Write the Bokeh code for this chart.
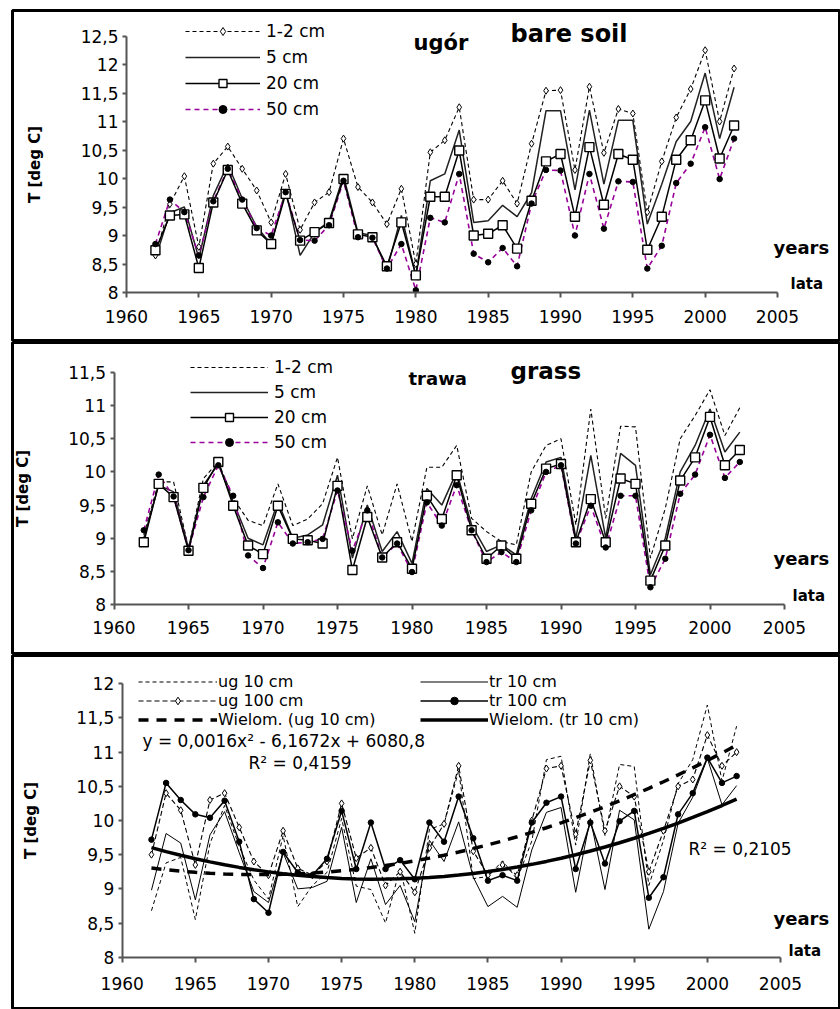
import numpy as np
from bokeh.plotting import figure
from bokeh.models import (LinearAxis, FixedTicker, Range1d, Legend, LegendItem,
                          Label, CustomJSTickFormatter)
from bokeh.layouts import column
from bokeh.embed import file_html
from bokeh.resources import INLINE

# ---------------- data ----------------
years = list(range(1962, 2003))
x_ticks = [1960, 1965, 1970, 1975, 1980, 1985, 1990, 1995, 2000, 2005]
y_ticks_top = [8, 8.5, 9, 9.5, 10, 10.5, 11, 11.5, 12, 12.5]
y_ticks_mid = [8, 8.5, 9, 9.5, 10, 10.5, 11, 11.5]
y_ticks_bot = [8, 8.5, 9, 9.5, 10, 10.5, 11, 11.5, 12]

# bare soil (ugór)
bs_1_2 = [8.65, 9.55, 10.04, 8.80, 10.26, 10.56, 10.17, 9.79, 9.23, 10.08,
          9.10, 9.58, 9.76, 10.70, 9.85, 9.58, 9.20, 9.82, 8.50, 10.46,
          10.67, 11.25, 9.63, 9.63, 9.96, 9.56, 10.61, 11.54, 11.55, 10.15,
          11.61, 10.45, 11.22, 11.14, 9.41, 10.30, 11.07, 11.57, 12.25, 11.00, 11.93]
bs_5 = [8.60, 9.40, 9.50, 8.60, 9.70, 10.25, 9.65, 9.15, 8.85, 9.80,
        8.65, 9.05, 9.25, 10.05, 9.05, 9.00, 8.40, 9.35, 8.30, 9.96,
        10.08, 10.85, 9.23, 9.26, 9.53, 9.33, 9.75, 11.19, 11.19, 9.80,
        11.20, 9.90, 11.02, 11.02, 9.20, 9.90, 10.65, 11.00, 11.85, 10.70, 11.60]
bs_20 = [8.74, 9.35, 9.37, 8.43, 9.58, 10.15, 9.56, 9.09, 8.85, 9.73,
         8.91, 9.06, 9.22, 9.99, 9.02, 8.97, 8.46, 9.23, 8.30, 9.68,
         9.68, 10.49, 9.00, 9.03, 9.18, 8.77, 9.61, 10.30, 10.43, 9.33,
         10.55, 9.54, 10.43, 10.33, 8.75, 9.33, 10.33, 10.67, 11.37, 10.35, 10.93]
bs_50 = [8.85, 9.63, 9.41, 8.65, 9.60, 10.17, 9.63, 9.13, 9.00, 9.76,
         8.92, 8.91, 9.18, 9.96, 8.97, 8.96, 8.42, 8.85, 8.04, 9.31,
         9.23, 10.08, 8.68, 8.53, 8.78, 8.46, 9.56, 10.15, 10.14, 9.00,
         10.08, 9.12, 9.95, 9.94, 8.42, 8.82, 9.92, 10.26, 10.90, 9.99, 10.70]

# grass (trawa)
gr_1_2 = [9.05, 9.85, 9.85, 8.85, 9.90, 10.15, 9.60, 9.27, 9.19, 9.82,
          9.19, 9.29, 9.52, 10.22, 8.99, 9.79, 9.05, 9.82, 8.95, 10.07,
          10.07, 10.40, 9.30, 9.10, 8.95, 8.90, 10.00, 10.40, 10.50, 9.20,
          10.95, 9.30, 10.69, 10.68, 8.70, 9.45, 10.50, 10.85, 11.24, 10.55, 10.97]
gr_5 = [9.00, 9.80, 9.70, 8.85, 9.80, 10.12, 9.55, 9.00, 8.90, 9.55,
        9.00, 9.05, 9.20, 9.95, 8.70, 9.50, 8.80, 9.10, 8.62, 9.75,
        9.50, 10.00, 9.20, 8.80, 8.90, 8.75, 9.60, 10.15, 10.22, 9.00,
        10.25, 9.00, 10.28, 10.10, 8.45, 9.00, 10.00, 10.40, 10.95, 10.30, 10.60]
gr_20 = [8.94, 9.82, 9.62, 8.81, 9.76, 10.15, 9.49, 8.89, 8.76, 9.49,
         8.99, 8.97, 8.92, 9.79, 8.52, 9.32, 8.71, 8.94, 8.54, 9.64,
         9.29, 9.95, 9.12, 8.69, 8.89, 8.69, 9.52, 10.05, 10.12, 8.94,
         9.59, 8.94, 9.90, 9.82, 8.36, 8.89, 9.87, 10.22, 10.83, 10.10, 10.33]
gr_50 = [9.12, 9.96, 9.63, 8.82, 9.62, 10.10, 9.64, 8.74, 8.55, 9.24,
         8.92, 8.94, 8.99, 9.72, 8.81, 9.42, 8.71, 8.92, 8.49, 9.54,
         9.19, 9.80, 9.12, 8.64, 8.79, 8.64, 9.42, 10.00, 10.10, 8.92,
         9.49, 8.86, 9.64, 9.64, 8.26, 8.69, 9.67, 9.96, 10.56, 9.91, 10.15]

# 10 cm / 100 cm comparison
ug_10 = [8.68, 9.38, 9.46, 8.55, 9.66, 10.22, 9.62, 9.13, 8.85, 9.78,
         8.74, 9.05, 9.24, 10.03, 9.04, 8.99, 8.50, 9.31, 8.35, 9.87,
         9.95, 10.73, 9.15, 9.18, 9.41, 9.14, 9.70, 10.89, 10.94, 9.64,
         10.98, 9.78, 10.82, 10.79, 9.05, 9.71, 10.54, 10.89, 11.69, 10.58, 11.38]
ug_100 = [9.50, 10.40, 10.15, 9.35, 10.30, 10.40, 9.90, 9.40, 9.20, 9.85,
          9.30, 9.20, 9.40, 10.25, 9.45, 9.60, 9.05, 9.25, 8.95, 9.60,
          9.95, 10.80, 9.55, 9.20, 9.35, 9.20, 10.00, 10.76, 10.80, 9.80,
          10.88, 9.85, 10.50, 10.35, 9.25, 9.85, 10.50, 10.60, 11.25, 10.80, 11.00]
tr_10 = [8.98, 9.81, 9.67, 8.84, 9.79, 10.13, 9.53, 8.96, 8.80, 9.53,
         9.00, 9.02, 9.11, 9.90, 8.80, 9.44, 8.77, 9.05, 8.52, 9.71,
         9.40, 9.98, 9.17, 8.74, 8.89, 8.73, 9.57, 10.12, 10.19, 8.95,
         10.03, 8.99, 10.15, 10.01, 8.41, 8.96, 9.96, 10.34, 10.91, 10.23, 10.51]
tr_100 = [9.72, 10.55, 10.30, 10.09, 10.04, 10.29, 9.69, 8.85, 8.65, 9.54,
          9.24, 9.20, 9.44, 10.14, 9.29, 9.97, 9.29, 9.42, 9.14, 9.97,
          9.69, 10.35, 9.74, 9.12, 9.20, 9.12, 9.97, 10.26, 10.35, 9.29,
          9.97, 9.37, 9.99, 10.14, 8.87, 9.17, 10.09, 10.40, 10.92, 10.55, 10.65]

# ---------------- styling / layout ----------------
FONT = "DejaVu Sans"
PAGE_W = 840
FRAME_LEFT = 12
PURPLE = "#990099"
AXIS_C = "#555555"

comma_fmt = CustomJSTickFormatter(code="return tick.toString().replace('.', ',');")


def panel(fig_top, fig_h, border_top, x1960, x2005, v_lo, y_lo_px, v_hi, y_hi_px,
          yticks, x_standoff):
    ppy = (x2005 - x1960) / 45.0
    x_start = 1960 - (x1960 - FRAME_LEFT) / ppy
    x_end = 1960 + (PAGE_W - x1960) / ppy
    frame_top = fig_top + border_top
    frame_bot = fig_top + fig_h
    ppu = (y_lo_px - y_hi_px) / (v_hi - v_lo)
    y_end = v_hi + (y_hi_px - frame_top) / ppu
    y_start = v_lo - (frame_bot - y_lo_px) / ppu

    p = figure(width=PAGE_W, height=fig_h,
               x_range=Range1d(x_start, x_end), y_range=Range1d(y_start, y_end),
               output_backend="svg", toolbar_location=None,
               x_axis_location=None, y_axis_location=None)
    p.min_border_left = FRAME_LEFT
    p.min_border_right = 0
    p.min_border_top = border_top
    p.min_border_bottom = 0
    p.grid.grid_line_color = None
    p.outline_line_color = "black"
    p.outline_line_width = 3
    p.background_fill_color = "white"
    p.border_fill_color = "white"

    xa = LinearAxis(fixed_location=v_lo, bounds=(1960, 2005),
                    ticker=FixedTicker(ticks=x_ticks))
    xa.axis_line_color = AXIS_C
    xa.axis_line_width = 2
    xa.major_tick_line_color = AXIS_C
    xa.major_tick_line_width = 2
    xa.major_tick_in = 0
    xa.major_tick_out = 5
    xa.minor_tick_line_color = None
    xa.major_label_standoff = x_standoff
    xa.major_label_text_font = FONT
    xa.major_label_text_font_size = "17px"
    xa.major_label_text_color = "black"
    p.add_layout(xa, "below")

    ya = LinearAxis(fixed_location=1960, bounds=(v_lo, v_hi),
                    ticker=FixedTicker(ticks=yticks), formatter=comma_fmt,
                    axis_label="T [deg C]")
    ya.axis_line_color = AXIS_C
    ya.axis_line_width = 2
    ya.major_tick_line_color = AXIS_C
    ya.major_tick_line_width = 2
    ya.major_tick_in = 0
    ya.major_tick_out = 4
    ya.minor_tick_line_color = None
    ya.major_label_standoff = 4
    ya.major_label_text_font = FONT
    ya.major_label_text_font_size = "17px"
    ya.major_label_text_color = "black"
    ya.axis_label_text_font = FONT
    ya.axis_label_text_font_size = "15px"
    ya.axis_label_text_font_style = "bold"
    ya.axis_label_text_color = "black"
    ya.axis_label_standoff = 34
    p.add_layout(ya, "left")

    def X(px):
        return x_start + (px - FRAME_LEFT) / ppy

    def Y(py):
        return y_end - (py - frame_top) / ppu

    return p, X, Y, frame_bot


def text(p, x, y, s, size, bold=False):
    p.add_layout(Label(x=x, y=y, text=s, text_font=FONT, text_font_size=size,
                       text_font_style="bold" if bold else "normal",
                       text_color="black", text_align="left",
                       text_baseline="middle"))


def legend(p, items, left_px, first_center_px, frame_bot, row_h, spacing,
           glyph_w, standoff, font_size):
    n = len(items)
    top = first_center_px - row_h / 2.0
    bottom = top + n * row_h + (n - 1) * spacing
    leg = Legend(items=items, location=(left_px - FRAME_LEFT, frame_bot - bottom),
                 orientation="vertical", glyph_width=glyph_w, glyph_height=row_h,
                 label_height=row_h, label_standoff=standoff, spacing=spacing,
                 padding=0, margin=0, border_line_color=None,
                 background_fill_alpha=0, label_text_font=FONT,
                 label_text_font_size=font_size, label_text_color="black")
    p.add_layout(leg)


def depth_panel(p, y12, y5, y20, y50, diamonds):
    r12 = p.line(years, y12, line_color="black", line_width=1.1, line_dash="4 3")
    r5 = p.line(years, y5, line_color="#222222", line_width=1.5)
    r50 = p.line(years, y50, line_color=PURPLE, line_width=1.6, line_dash="5 4")
    r20 = p.line(years, y20, line_color="black", line_width=1.5)
    first = [r12]
    if diamonds:
        first.append(p.scatter(years, y12, marker="diamond", size=7,
                               fill_color="white", line_color="black", line_width=1))
    m20 = p.scatter(years, y20, marker="square", size=9, fill_color="white",
                    line_color="black", line_width=1.4)
    m50 = p.scatter(years, y50, marker="circle", size=5.5, fill_color="black",
                    line_color="black")
    return [LegendItem(label="1-2 cm", renderers=first),
            LegendItem(label="5 cm", renderers=[r5]),
            LegendItem(label="20 cm", renderers=[r20, m20]),
            LegendItem(label="50 cm", renderers=[r50, m50])]


# ---------------- panel 1: bare soil ----------------
p1, X1, Y1, fb1 = panel(0, 341, 10, 126, 777, 8, 292, 12.5, 35.5, y_ticks_top, 12)
items1 = depth_panel(p1, bs_1_2, bs_5, bs_20, bs_50, True)
legend(p1, items1, 185, 30.7, fb1, 20, 6, 75, 6, "17px")
text(p1, X1(413), Y1(42), "ugór", "21px", True)
text(p1, X1(510), Y1(33), "bare soil", "24px", True)
text(p1, X1(773), Y1(247), "years", "18px", True)
text(p1, X1(790), Y1(283), "lata", "15px", True)

# ---------------- panel 2: grass ----------------
p2, X2, Y2, fb2 = panel(341, 313, 1, 113.5, 784, 8, 604, 11.5, 372, y_ticks_mid, 11)
items2 = depth_panel(p2, gr_1_2, gr_5, gr_20, gr_50, False)
legend(p2, items2, 190, 366.7, fb2, 20, 5, 78, 6, "17px")
text(p2, X2(408), Y2(378), "trawa", "18px", True)
text(p2, X2(510), Y2(370), "grass", "23px", True)
text(p2, X2(773), Y2(558), "years", "18px", True)
text(p2, X2(792), Y2(595), "lata", "15px", True)

# ---------------- panel 3: 10 cm vs 100 cm with trends ----------------
p3, X3, Y3, fb3 = panel(654, 355, 1, 121.7, 780, 8, 956.7, 12, 683.3, y_ticks_bot, 15)
yr = np.array(years, dtype=float)
ug_trend = np.polyval(np.polyfit(yr - 1980, ug_10, 2), yr - 1980)
tr_trend = np.polyval(np.polyfit(yr - 1980, tr_10, 2), yr - 1980)

r_ug10 = p3.line(years, ug_10, line_color="black", line_width=1, line_dash="4 3")
r_ug100 = p3.line(years, ug_100, line_color="black", line_width=1.1, line_dash="5 3")
m_ug100 = p3.scatter(years, ug_100, marker="diamond", size=7, fill_color="white",
                     line_color="black", line_width=1)
r_tr10 = p3.line(years, tr_10, line_color="black", line_width=1)
r_tr100 = p3.line(years, tr_100, line_color="black", line_width=1.5)
m_tr100 = p3.scatter(years, tr_100, marker="circle", size=5.5, fill_color="black",
                     line_color="black")
r_ugt = p3.line(years, ug_trend, line_color="black", line_width=3.5, line_dash="10 8")
r_trt = p3.line(years, tr_trend, line_color="black", line_width=3.5)

legend(p3, [LegendItem(label="ug 10 cm", renderers=[r_ug10]),
            LegendItem(label="ug 100 cm", renderers=[r_ug100, m_ug100]),
            LegendItem(label="Wielom. (ug 10 cm)", renderers=[r_ugt])],
       138, 681.7, fb3, 19, 0, 79, 1, "16px")
legend(p3, [LegendItem(label="tr 10 cm", renderers=[r_tr10]),
            LegendItem(label="tr 100 cm", renderers=[r_tr100, m_tr100]),
            LegendItem(label="Wielom. (tr 10 cm)", renderers=[r_trt])],
       420, 681.7, fb3, 19, 0, 68, 1, "16px")
text(p3, X3(142), Y3(740), "y = 0,0016x² - 6,1672x + 6080,8", "17px")
text(p3, X3(248), Y3(762), "R² = 0,4159", "17px")
text(p3, X3(688), Y3(848), "R² = 0,2105", "17px")
text(p3, X3(773), Y3(918), "years", "18px", True)
text(p3, X3(788), Y3(950), "lata", "15px", True)

layout = column(p1, p2, p3, spacing=0)
open("out.html", "w").write(file_html(layout, INLINE))
